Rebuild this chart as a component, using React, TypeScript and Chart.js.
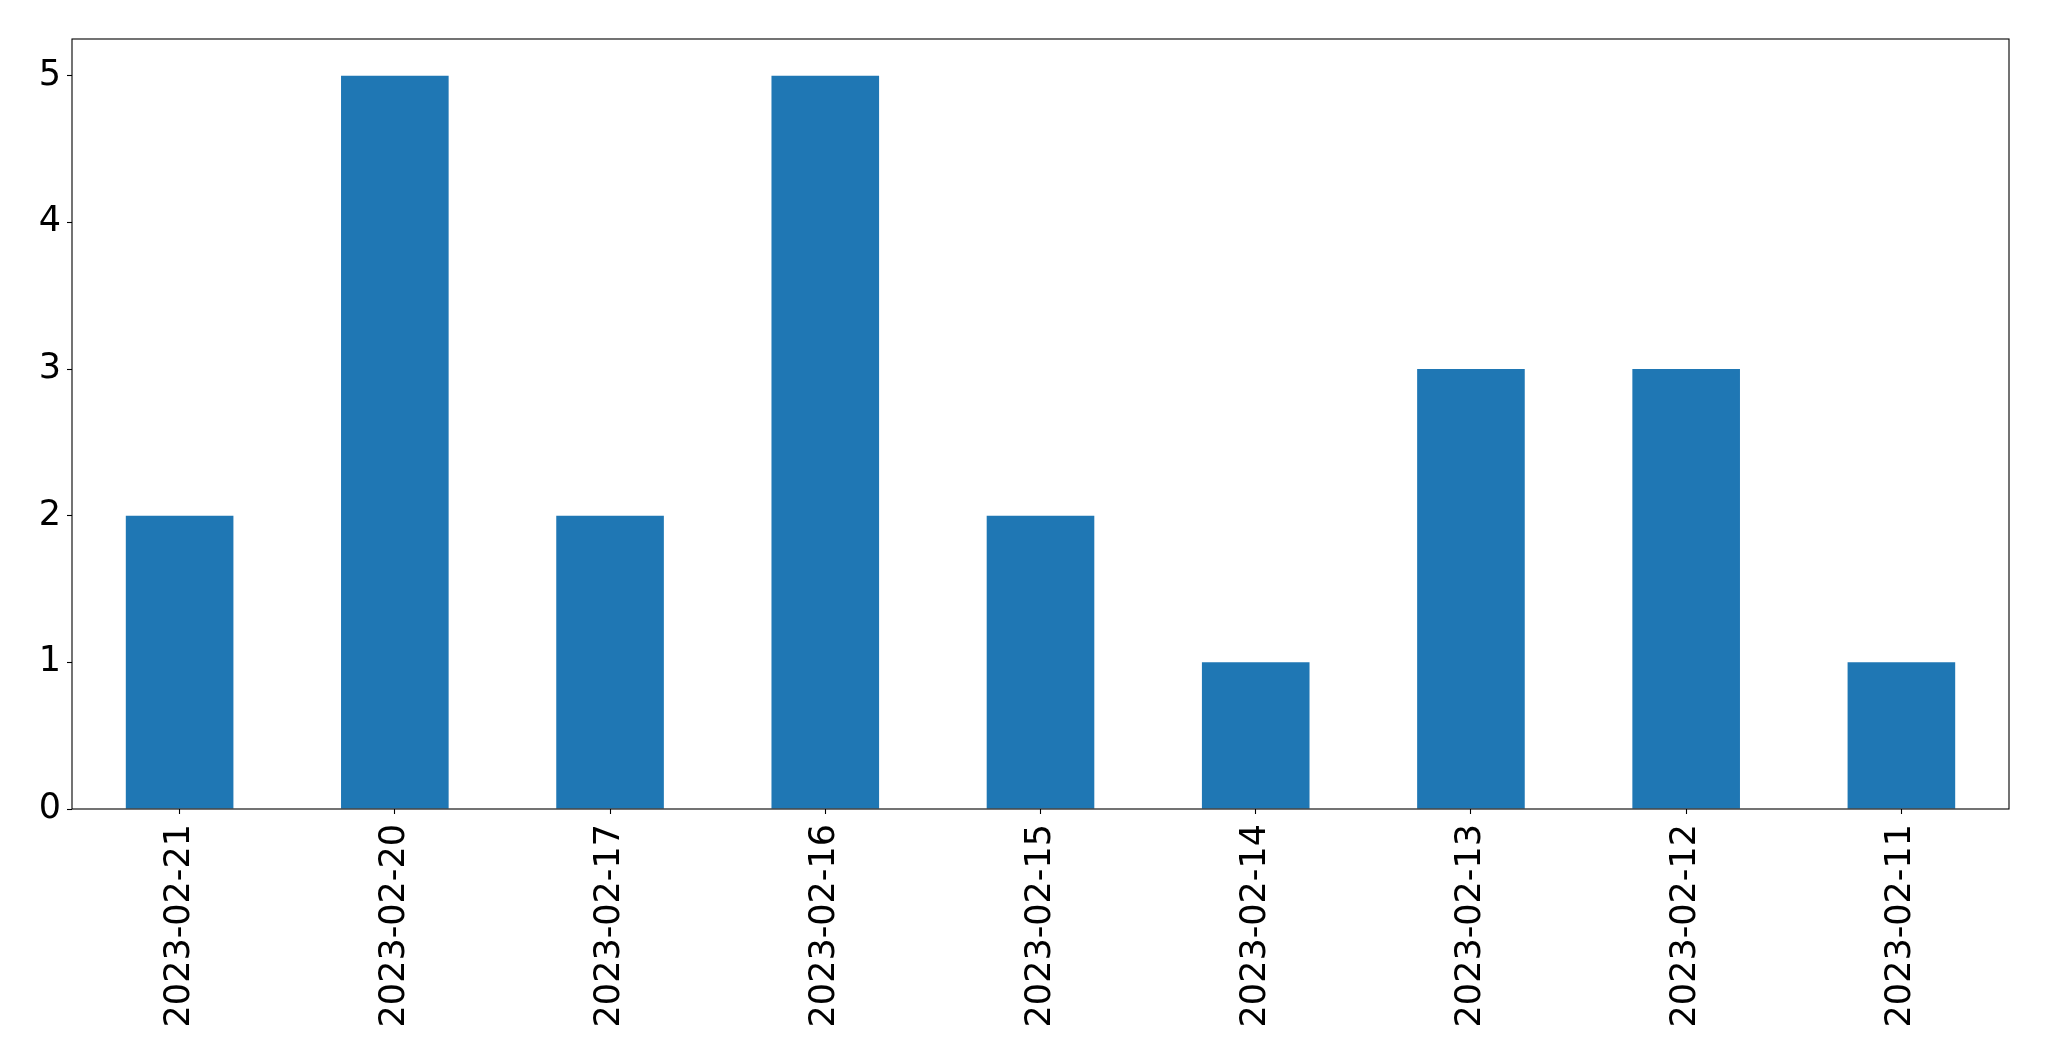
import React, { useEffect, useRef } from "react";
import { Chart, registerables } from "chart.js";

Chart.register(...registerables);

const categories = [
  "2023-02-21",
  "2023-02-20",
  "2023-02-17",
  "2023-02-16",
  "2023-02-15",
  "2023-02-14",
  "2023-02-13",
  "2023-02-12",
  "2023-02-11",
];
const counts = [2, 5, 2, 5, 2, 1, 3, 3, 1];
const yTicks = [0, 1, 2, 3, 4, 5];
const yMax = 5.25;

const framePlugin = {
  id: "frame",
  afterDraw(chart: any) {
    const { ctx, chartArea } = chart;
    ctx.save();
    ctx.strokeStyle = "#000";
    ctx.lineWidth = 1.1;
    ctx.strokeRect(chartArea.left, chartArea.top, chartArea.right - chartArea.left, chartArea.bottom - chartArea.top);
    ctx.restore();
  },
};

export default function App() {
  const ref = useRef<HTMLCanvasElement>(null);
  useEffect(() => {
    if (!ref.current) return;
    const font = { family: "'DejaVu Sans'", size: 35 };
    const chart = new Chart(ref.current, {
      type: "bar",
      data: {
        labels: categories,
        datasets: [
          {
            data: counts,
            backgroundColor: "#1f77b4",
            borderWidth: 0,
            barPercentage: 0.5,
            categoryPercentage: 1,
          },
        ],
      },
      options: {
        responsive: false,
        animation: false,
        devicePixelRatio: 1,
        layout: { padding: { top: 39, right: 40, left: 0, bottom: 0 } },
        plugins: { legend: { display: false }, tooltip: { enabled: false } },
        scales: {
          x: {
            offset: true,
            grid: {
              display: true,
              offset: false,
              drawOnChartArea: false,
              drawTicks: true,
              tickLength: 5,
              tickColor: "#000",
              tickWidth: 1.1,
            },
            border: { display: false },
            ticks: {
              color: "#000",
              font,
              minRotation: 90,
              maxRotation: 90,
              autoSkip: false,
              padding: 10,
            },
            afterFit(scale: any) {
              scale.height = 252;
            },
          },
          y: {
            min: 0,
            max: yMax,
            grid: {
              display: true,
              drawOnChartArea: false,
              drawTicks: true,
              tickLength: 5,
              tickColor: "#000",
              tickWidth: 1.1,
            },
            border: { display: false },
            afterBuildTicks(scale: any) {
              scale.ticks = yTicks.map((v) => ({ value: v }));
            },
            ticks: {
              color: "#000",
              font,
              padding: 6,
            },
            afterFit(scale: any) {
              scale.width = 72;
            },
          },
        },
      },
      plugins: [framePlugin],
    });
    return () => chart.destroy();
  }, []);
  return (
    <canvas
      ref={ref}
      width={2049}
      height={1061}
      style={{ position: "fixed", left: 0, top: 0, width: 2049, height: 1061, background: "#fff" }}
    />
  );
}
